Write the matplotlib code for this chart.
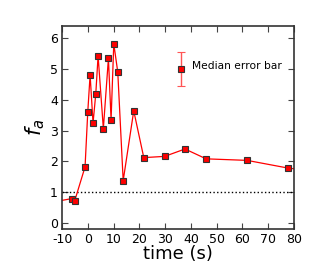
import matplotlib
matplotlib.use('Agg')
from matplotlib import pyplot as plt
import numpy as np

plt.rcParams['axes.unicode_minus'] = False

t = [-12, -6.1, -5.1, -1.1, -0.05, 0.86, 2.0, 3.07, 3.96, 6.0, 7.97, 9.0,
     10.05, 11.6, 13.7, 17.8, 21.7, 29.8, 37.7, 45.9, 61.8, 77.7, 82]
fa = [0.7, 0.79, 0.72, 1.82, 3.6, 4.81, 3.24, 4.2, 5.43, 3.06, 5.35, 3.35,
      5.82, 4.9, 1.37, 3.64, 2.12, 2.16, 2.40, 2.08, 2.03, 1.78, 1.74]

err_x = [36.0]
err_y = [5.0]
err_size = [0.55]

fig = plt.figure(figsize=(3.27, 2.62), dpi=100)
ax = fig.add_axes([0.19, 0.126, 0.709, 0.775])

ax.axhline(1, color='black', linestyle=':', linewidth=1)
ax.plot(t, fa, color='red', linewidth=0.9, marker='s', markersize=5,
        markerfacecolor='red', markeredgecolor='#333333', markeredgewidth=0.8)
ax.errorbar(err_x, err_y, yerr=err_size, fmt='s', color='red', markersize=5,
            markerfacecolor='red', markeredgecolor='#333333', markeredgewidth=0.8,
            ecolor='#ff5555', elinewidth=1, capsize=3)
ax.text(40.5, 5.1, 'Median error bar', fontsize=7.7, va='center')

ax.set_xlim(-10, 80)
ax.set_ylim(-0.2, 6.4)
ax.set_xticks(np.arange(-10, 81, 10))
ax.set_yticks(np.arange(0, 7, 1))
ax.tick_params(direction='in', top=True, right=True, labelsize=9, length=4,
               color='#444444', pad=3)
for s in ax.spines.values():
    s.set_color('#333333')
    s.set_linewidth(1.2)

ax.set_xlabel('time (s)', fontsize=13, labelpad=-1)
ax.set_ylabel('$f_a$', fontsize=15, labelpad=2)

fig.savefig('out.png', dpi=100)
